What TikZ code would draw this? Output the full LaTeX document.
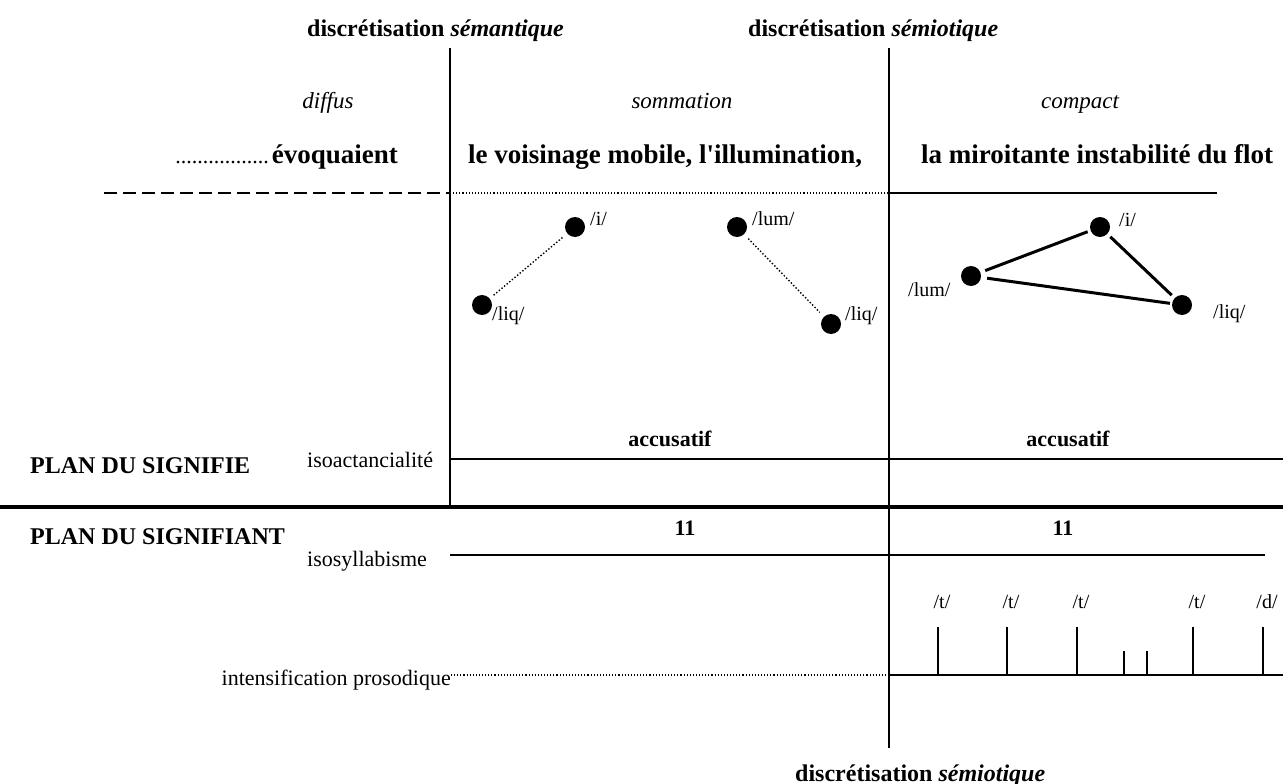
\documentclass[tikz,border=0pt]{standalone}
\usepackage{fontspec}
\setmainfont{Liberation Serif}[Ligatures=TeXOff]
\begin{document}
\begin{tikzpicture}[x=1pt,y=-1pt,
  lbl/.style={inner sep=0pt,font=\fontsize{22}{24}\selectfont},
  ital/.style={inner sep=0pt,font=\fontsize{23}{25}\selectfont\itshape},
  bl/.style={inner sep=0pt,font=\fontsize{24}{26}\selectfont\bfseries},
  acc/.style={inner sep=0pt,font=\fontsize{22}{24}\selectfont\bfseries},
  big/.style={inner sep=0pt,font=\fontsize{27}{30}\selectfont\bfseries},
  plan/.style={inner sep=0pt,font=\fontsize{24}{26}\selectfont\bfseries},
  ph/.style={inner sep=0pt,font=\fontsize{20}{22}\selectfont},
  dot/.style={circle,fill=black,minimum size=20pt,inner sep=0pt},
  axis/.style={line width=1.8pt},
  thin/.style={line width=1.1pt},
  tick/.style={line width=1.3pt}]
\useasboundingbox (0,0) rectangle (1283,784);
% vertical axes
\coordinate (v1t) at (450,48); \coordinate (v1b) at (450,507);
\coordinate (v2t) at (889,48); \coordinate (v2b) at (889,748);
\draw[axis] (v1t) -- (v1b);
\draw[axis] (v2t) -- (v2b);
% top horizontal
\coordinate (h1a) at (104,193); \coordinate (h1b) at (450,193);
\coordinate (h1c) at (889,193); \coordinate (h1d) at (1217,193);
\draw[line width=1.6pt,dash pattern=on 13pt off 6pt] (h1a) -- (h1b);
\draw[dotted,thin] (h1b) -- (h1c);
\draw[thin] (h1c) -- (h1d);
% thick divider
\coordinate (hda) at (0,507); \coordinate (hdb) at (1283,507);
\draw[line width=3.2pt] (hda) -- (hdb);
% accusatif line
\coordinate (haa) at (450,459); \coordinate (hab) at (1283,459);
\draw[thin] (haa) -- (hab);
% isosyllabisme line
\coordinate (hsa) at (450,555); \coordinate (hsb) at (1265,555);
\draw[thin] (hsa) -- (hsb);
% prosodic line
\coordinate (hpa) at (451,675);
\coordinate (hpb) at (889,675); \coordinate (hpc) at (1283,675);
\draw[dotted,thin] (hpa) -- (hpb);
\draw[thin] (hpb) -- (hpc);
% texts
\node[bl,anchor=base west] (t1) at (307,37) {discrétisation \textit{sémantique}};
\node[bl,anchor=base west] (t2) at (748,37) {discrétisation \textit{sémiotique}};
\node[bl,anchor=base west] (t3) at (795,781) {discrétisation \textit{sémiotique}};
\node[ital,anchor=base] (d1) at (328,109) {diffus};
\node[ital,anchor=base] (d2) at (682,109) {sommation};
\node[ital,anchor=base] (d3) at (1080,109) {compact};
\node[big,anchor=base east] (e1) at (398,163) {{\mdseries\fontsize{22}{24}\selectfont .................}\hspace{3pt}évoquaient};
\node[big,anchor=base west] (e2) at (468,163) {le voisinage mobile, l'illumination,};
\node[big,anchor=base west] (e3) at (921,163) {la miroitante instabilité du flot};
\node[acc,anchor=base] (a1) at (670,446) {accusatif};
\node[acc,anchor=base] (a2) at (1068,446) {accusatif};
\node[plan,anchor=base west] (p1) at (30,473) {PLAN DU SIGNIFIE};
\node[plan,anchor=base west] (p2) at (30,544) {PLAN DU SIGNIFIANT};
\node[lbl,anchor=base west] (i1) at (307,467) {isoactancialité};
\node[lbl,anchor=base west] (i2) at (307,566) {isosyllabisme};
\node[lbl,anchor=base east] (i3) at (451,685) {intensification prosodique};
\node[acc,anchor=base] (n1) at (685,535) {11};
\node[acc,anchor=base] (n2) at (1063,535) {11};
% left panel dots
\node[dot] (a) at (482,305) {};
\node[dot] (b) at (575,227) {};
\node[dot] (c) at (737,227) {};
\node[dot] (d) at (831,324) {};
\node[ph,anchor=base west] (la) at (590,225) {/i/};
\node[ph,anchor=base west] (lb) at (492,320) {/liq/};
\node[ph,anchor=base west] (lc) at (752,225) {/lum/};
\node[ph,anchor=base west] (ld) at (845,320) {/liq/};
\draw[dotted,line width=1.4pt,shorten <=5pt,shorten >=6pt] (a) -- (b);
\draw[dotted,line width=1.4pt,shorten <=6pt,shorten >=6pt] (c) -- (d);
% right triangle
\node[dot] (e) at (971,276) {};
\node[dot] (f) at (1100,227) {};
\node[dot] (g) at (1182,305) {};
\node[ph,anchor=base west] (lf) at (1119,226) {/i/};
\node[ph,anchor=base west] (le) at (908,296) {/lum/};
\node[ph,anchor=base west] (lg) at (1213,318) {/liq/};
\draw[line width=3pt,shorten <=5pt,shorten >=3pt] (e) -- (f);
\draw[line width=3pt,shorten <=4pt,shorten >=4pt] (f) -- (g);
\draw[line width=3pt,shorten <=6pt,shorten >=2pt] (e) -- (g);
% ticks
\foreach \x/\n in {938/tk1,1007/tk2,1077/tk3,1193/tk6,1263/tk7}{
  \coordinate (\n a) at (\x,627); \coordinate (\n b) at (\x,675);
  \draw[tick] (\n a) -- (\n b);}
\foreach \x/\n in {1124/tk4,1147/tk5}{
  \coordinate (\n a) at (\x,651); \coordinate (\n b) at (\x,675);
  \draw[tick] (\n a) -- (\n b);}
\node[ph,anchor=base] (s1) at (942,608) {/t/};
\node[ph,anchor=base] (s2) at (1011,608) {/t/};
\node[ph,anchor=base] (s3) at (1081,608) {/t/};
\node[ph,anchor=base] (s4) at (1197,608) {/t/};
\node[ph,anchor=base] (s5) at (1267,608) {/d/};
\end{tikzpicture}
\end{document}
